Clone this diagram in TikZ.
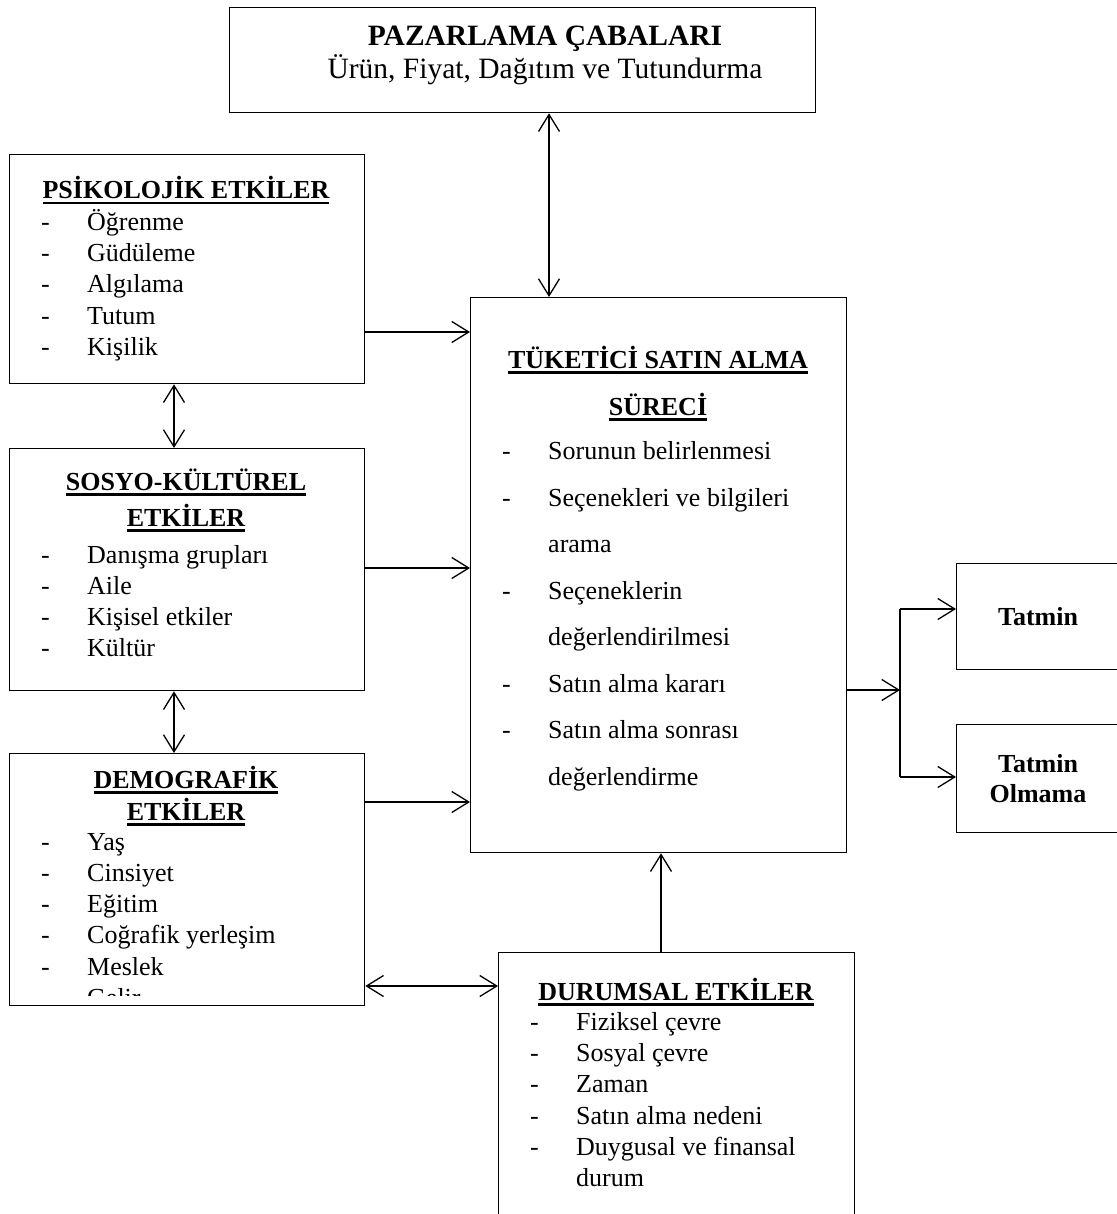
\documentclass[tikz,border=0pt]{standalone}
\usepackage{fontspec}
\setmainfont{Liberation Serif}
\usetikzlibrary{arrows.meta}
\newcommand\myul[1]{\setbox0=\hbox{#1}\rlap{\rule[-5.5pt]{\wd0}{2.5pt}}\box0}
\newcommand\itm[4]{\node[txt] (#1) at (#2,#3) {\makebox[46pt][l]{-}#4};}
\newcommand\cont[4]{\node[txt] (#1) at (#2+46,#3) {#4};}
\tikzset{
  box/.style={draw, line width=1.3pt, rectangle, inner sep=0pt, anchor=north west},
  txt/.style={inner sep=0pt, anchor=base west, font=\fontsize{26}{31}\selectfont},
  hdr/.style={inner sep=0pt, anchor=base, font=\fontsize{26}{31}\selectfont\bfseries},
  bighdr/.style={inner sep=0pt, anchor=base, font=\fontsize{29.5}{34}\selectfont\bfseries},
  bigsub/.style={inner sep=0pt, anchor=base, font=\fontsize{29.5}{34}\selectfont},
  conn/.style={line width=1.3pt},
  tip/.tip={Straight Barb[length=17pt,width=21pt,line width=1.3pt]},
  one/.style={conn,-tip},
  two/.style={conn,tip-tip}
}
\begin{document}
\begin{tikzpicture}[x=1pt,y=-1pt]
\useasboundingbox (0,0) rectangle (1116,1214);
% boxes
\node[box, minimum width=586pt, minimum height=105pt] (paz) at (229,7) {};
\node[box, minimum width=355pt, minimum height=229pt] (psy) at (9,154) {};
\node[box, minimum width=355pt, minimum height=242pt] (sos) at (9,448) {};
\node[box, minimum width=355pt, minimum height=252pt] (dem) at (9,753) {};
\node[box, minimum width=376pt, minimum height=555pt] (tuk) at (470,297) {};
\node[box, minimum width=356pt, minimum height=290pt] (dur) at (498,952) {};
\node[box, minimum width=170pt, minimum height=106pt] (sat) at (956,563) {};
\node[box, minimum width=170pt, minimum height=108pt] (nsat) at (956,724) {};
% texts: pazarlama
\node[bighdr] (pazh) at (545,46) {PAZARLAMA ÇABALARI};
\node[bigsub] (pazs) at (545,79) {Ürün, Fiyat, Dağıtım ve Tutundurma};
% psikolojik
\node[hdr] (psyh) at (186,199) {\myul{PSİKOLOJİK ETKİLER}};
\itm{p1}{41}{231}{Öğrenme}
\itm{p2}{41}{262}{Güdüleme}
\itm{p3}{41}{293}{Algılama}
\itm{p4}{41}{324}{Tutum}
\itm{p5}{41}{355}{Kişilik}
% sosyo
\node[hdr] (sosh1) at (186,490) {\myul{SOSYO-KÜLTÜREL}};
\node[hdr] (sosh2) at (186,526) {\myul{ETKİLER}};
\itm{s1}{41}{563}{Danışma grupları}
\itm{s2}{41}{594}{Aile}
\itm{s3}{41}{625}{Kişisel etkiler}
\itm{s4}{41}{656}{Kültür}
% demografik
\node[hdr] (demh1) at (186,788) {\myul{DEMOGRAFİK}};
\node[hdr] (demh2) at (186,820) {\myul{ETKİLER}};
\itm{d1}{41}{850}{Yaş}
\itm{d2}{41}{881}{Cinsiyet}
\itm{d3}{41}{912}{Eğitim}
\itm{d4}{41}{943}{Coğrafik yerleşim}
\itm{d5}{41}{975}{Meslek}
\begin{scope}
\clip (9,753) rectangle (363,995);
\itm{d6}{41}{1006}{Gelir}
\end{scope}
% tuketici
\node[hdr] (tukh1) at (658,368) {\myul{TÜKETİCİ SATIN ALMA}};
\node[hdr] (tukh2) at (658,415) {\myul{SÜRECİ}};
\itm{t1}{502}{459}{Sorunun belirlenmesi}
\itm{t2}{502}{506}{Seçenekleri ve bilgileri}
\cont{t2b}{502}{552}{arama}
\itm{t3}{502}{599}{Seçeneklerin}
\cont{t3b}{502}{645}{değerlendirilmesi}
\itm{t4}{502}{692}{Satın alma kararı}
\itm{t5}{502}{738}{Satın alma sonrası}
\cont{t5b}{502}{785}{değerlendirme}
% durumsal
\node[hdr] (durh) at (676,1000) {\myul{DURUMSAL ETKİLER}};
\itm{u1}{530}{1030}{Fiziksel çevre}
\itm{u2}{530}{1061}{Sosyal çevre}
\itm{u3}{530}{1092}{Zaman}
\itm{u4}{530}{1124}{Satın alma nedeni}
\itm{u5}{530}{1155}{Duygusal ve finansal}
\cont{u5b}{530}{1186}{durum}
% tatmin
\node[hdr] (sath) at (1038,625) {Tatmin};
\node[hdr] (nsath1) at (1038,772) {Tatmin};
\node[hdr] (nsath2) at (1038,802) {Olmama};
% connector coordinates
\coordinate (cpz) at (549,0);
\coordinate (cps) at (0,332);
\coordinate (css) at (0,568);
\coordinate (cds) at (0,802);
\coordinate (cv) at (174,0);
\coordinate (cdd) at (0,986);
\coordinate (cdt) at (661,0);
\coordinate (j) at (900,690);
\coordinate (j1) at (900,609);
\coordinate (j2) at (900,777);
% connectors
\draw[two] (paz.south -| cpz) -- (tuk.north -| cpz);
\draw[one] (psy.east |- cps) -- (tuk.west |- cps);
\draw[one] (sos.east |- css) -- (tuk.west |- css);
\draw[one] (dem.east |- cds) -- (tuk.west |- cds);
\draw[two] (psy.south -| cv) -- (sos.north -| cv);
\draw[two] (sos.south -| cv) -- (dem.north -| cv);
\draw[two] (dem.east |- cdd) -- (dur.west |- cdd);
\draw[one] (dur.north -| cdt) -- (tuk.south -| cdt);
\draw[one] (tuk.east |- j) -- (j);
\draw[conn] (j1) -- (j2);
\draw[one] (j1) -- (sat.west |- j1);
\draw[one] (j2) -- (nsat.west |- j2);
\end{tikzpicture}
\end{document}
